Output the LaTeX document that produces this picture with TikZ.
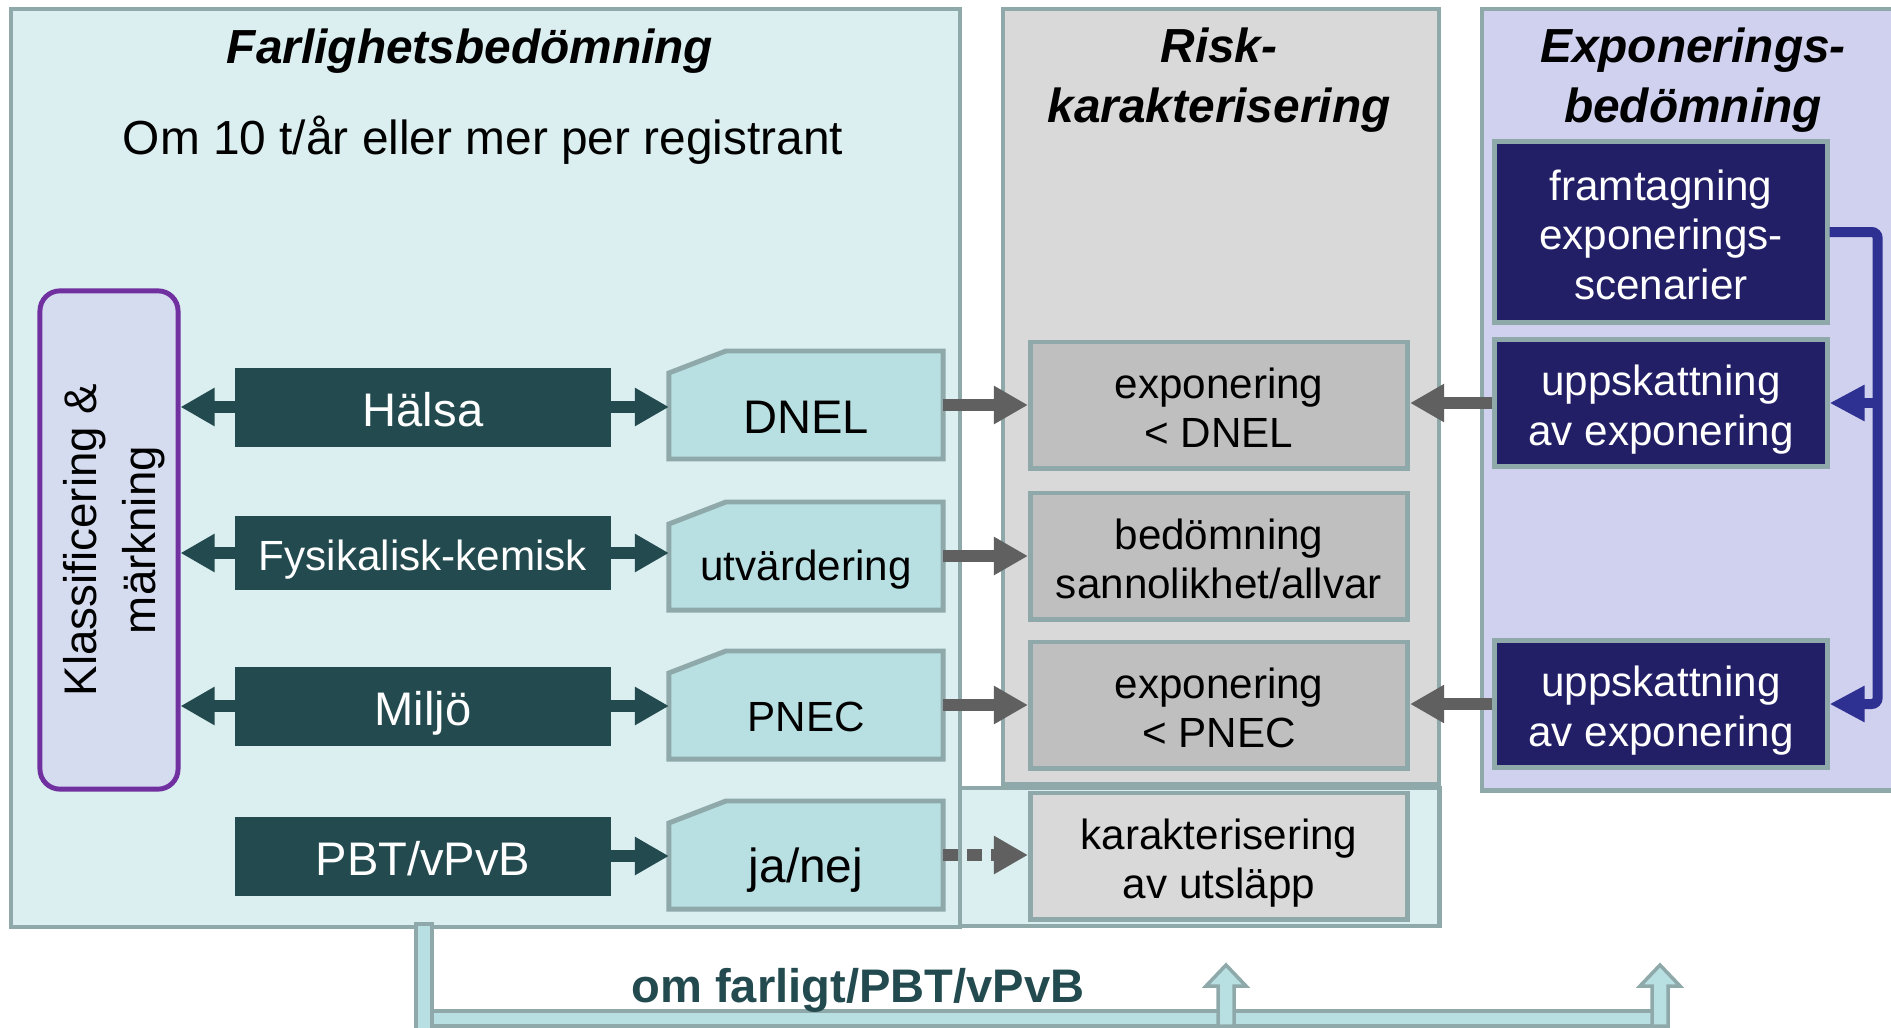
\documentclass[tikz,border=0pt]{standalone}
\usepackage{fontspec}
\setmainfont{Liberation Sans}
\usetikzlibrary{arrows.meta}

\definecolor{panelcyan}{HTML}{DBEEF0}
\definecolor{snipcyan}{HTML}{B8E0E2}
\definecolor{edgegray}{HTML}{8FA9AA}
\definecolor{darkteal}{HTML}{234B4F}
\definecolor{riskgray}{HTML}{D9D9D9}
\definecolor{boxgray}{HTML}{BFBFBF}
\definecolor{lavender}{HTML}{D0D1EE}
\definecolor{navyfill}{HTML}{221F66}
\definecolor{navyline}{HTML}{2E3192}
\definecolor{klassfill}{HTML}{D6DCF0}
\definecolor{klasspurple}{HTML}{7030A0}
\definecolor{arrowgray}{HTML}{606060}

\newcommand{\tstrut}{\rule{0pt}{1.05em}}
\newcommand{\bstrut}{\rule[-0.2em]{0pt}{0.2em}}

\begin{document}
\begin{tikzpicture}[x=0.01cm, y=-0.01cm,
	panel/.style={draw=edgegray, line width=1.2pt, anchor=north west, inner sep=0pt},
	headtext/.style={align=center, font=\fontsize{13.6}{16.8}\selectfont\bfseries\itshape},
	tealbox/.style={fill=darkteal, text=white, minimum width=3.75cm, minimum height=0.77cm, text height=13.4pt, text depth=2.4pt, font=\fontsize{13.4}{16}\selectfont},
	snipbox/.style={minimum width=2.74cm, minimum height=1.08cm, inner sep=0pt, outer sep=0pt},
	snipline/.style={draw=edgegray, line width=1.4pt, fill=snipcyan},
	graybox/.style={draw=edgegray, line width=1.4pt, fill=boxgray, minimum width=3.77cm, minimum height=1.26cm, align=center, font=\fontsize{12}{14}\selectfont},
	navybox/.style={draw=edgegray, line width=1.4pt, fill=navyfill, text=white, minimum width=3.32cm, align=center, font=\fontsize{12}{14.2}\selectfont},
	fatarrow/.style={line width=0.12cm, -{Triangle[length=0.34cm, width=0.36cm]}},
	pipeshape/.style={draw=edgegray, line width=1pt, fill=snipcyan}]
	\useasboundingbox (0,0) rectangle (1891,1027);

	% the three columns
	\node[panel, fill=panelcyan, minimum width=4.82cm, minimum height=1.38cm] (utslapp) at (955,786) {};
	\node[panel, fill=panelcyan, minimum width=9.48cm, minimum height=9.17cm] (farlig) at (9,7) {};
	\node[panel, fill=riskgray, minimum width=4.36cm, minimum height=7.75cm] (risk) at (1001,7) {};
	\node[panel, fill=lavender, minimum width=4.3cm, minimum height=7.81cm] (expo) at (1480,7) {};

	\node[headtext, anchor=base] (farligtitle) at (470,63) {Farlighetsbedömning};
	\node[anchor=base, font=\fontsize{13.6}{16}\selectfont] (tonnage) at (483,154) {Om 10 t/år eller mer per registrant};
	\node[headtext, anchor=base] (risktitle) at (1219,122) {Risk-\\karakterisering};
	\node[headtext, anchor=base] (expotitle) at (1693,122) {Exponerings-\\bedömning};

	\node[draw=klasspurple, line width=1.4pt, fill=klassfill, rounded corners=0.2cm, minimum width=1.38cm, minimum height=4.98cm] (klass) at (109,540) {};
	\node[rotate=90, align=center, font=\fontsize{13}{16.6}\selectfont] (klasstext) at ([xshift=0.05cm]klass.center) {Klassificering \&\\märkning};

	\node[tealbox] (halsa) at (423,407) {Hälsa};
	\node[tealbox, minimum height=0.71cm, text height=12pt, text depth=2.2pt, font=\fontsize{12}{14}\selectfont] (fysik) at (423,553) {Fysikalisk-kemisk};
	\node[tealbox] (miljo) at (423,706) {Miljö};
	\node[tealbox] (pbt) at (423,856) {PBT/vPvB};

	\node[snipbox] (dnel) at (806,405) {};
	\node[snipbox] (utv) at (806,556) {};
	\node[snipbox] (pnec) at (806,705) {};
	\node[snipbox] (janej) at (806,855) {};
	\foreach \n in {dnel, utv, pnec, janej}
		\draw[snipline] (\n.south west) -- ([yshift=-0.22cm]\n.north west) -- ([xshift=0.57cm]\n.north west) -- (\n.north east) -- (\n.south east) -- cycle;
	\node[font=\fontsize{13.4}{16}\selectfont] (dneltext) at ([yshift=-0.12cm]dnel.center) {DNEL};
	\node[font=\fontsize{12}{14}\selectfont] (utvtext) at ([yshift=-0.14cm]utv.center) {utvärdering};
	\node[font=\fontsize{12}{14}\selectfont] (pnectext) at ([yshift=-0.12cm]pnec.center) {PNEC};
	\node[font=\fontsize{13.6}{16}\selectfont] (janejtext) at ([yshift=-0.15cm]janej.center) {ja/nej};

	\node[graybox] (expdnel) at (1219,405) {\tstrut exponering\\< DNEL\bstrut};
	\node[graybox] (sannolik) at (1219,556) {\tstrut bedömning\\sannolikhet/allvar\bstrut};
	\node[graybox] (exppnec) at (1219,705) {\tstrut exponering\\< PNEC\bstrut};
	\node[graybox, fill=riskgray] (utslappbox) at (1219,856) {\tstrut karakterisering\\av utsläpp\bstrut};

	\node[navybox, minimum height=1.81cm] (scen) at (1661,232) {\tstrut framtagning\\exponerings-\\scenarier\bstrut};
	\node[navybox, minimum height=1.24cm] (upp1) at (1661,403) {\tstrut uppskattning\\av exponering\bstrut};
	\node[navybox, minimum height=1.27cm] (upp2) at (1661,704) {\tstrut uppskattning\\av exponering\bstrut};

	% arrows
	\foreach \a/\b in {halsa/dnel, fysik/utv, miljo/pnec, pbt/janej}
		\draw[fatarrow, darkteal] (\a.east) -- (\b.west |- \a.east);
	\foreach \a in {halsa, fysik, miljo}
		\draw[fatarrow, darkteal] (\a.west) -- (klass.east |- \a.west);
	\foreach \a/\b in {dnel/expdnel, utv/sannolik, pnec/exppnec}
		\draw[fatarrow, arrowgray] (\a.east) -- (\b.west |- \a.east);
	\draw[fatarrow, arrowgray, dash pattern=on 0.15cm off 0.09cm] (janej.east) -- (utslappbox.west |- janej.east);
	\draw[fatarrow, arrowgray] (upp1.west) -- (expdnel.east |- upp1.west);
	\draw[fatarrow, arrowgray] (upp2.west) -- (exppnec.east |- upp2.west);

	\coordinate (rail) at ([xshift=0.48cm]scen.east);
	\draw[navyline, line width=0.1cm, rounded corners=0.06cm, -{Triangle[length=0.35cm, width=0.34cm]}] (scen.east) -| (rail |- upp2.east) -- (upp2.east);
	\draw[navyline, line width=0.1cm, -{Triangle[length=0.35cm, width=0.34cm]}] (rail |- upp1.east) -- (upp1.east);

	% bottom feed
	\draw[pipeshape] (416,1011) rectangle (1668,1026);
	\draw[pipeshape] (416,924) rectangle (432,1040);
	\foreach \x in {1226, 1660}
		\draw[pipeshape] (\x-8,1026) -- (\x-8,986) -- (\x-20,986) -- (\x,965) -- (\x+20,986) -- (\x+8,986) -- (\x+8,1026) -- cycle;
	\node[anchor=base, text=darkteal, font=\fontsize{13.4}{16}\selectfont\bfseries] (feedtext) at (858,1002) {om farligt/PBT/vPvB};
\end{tikzpicture}
\end{document}
